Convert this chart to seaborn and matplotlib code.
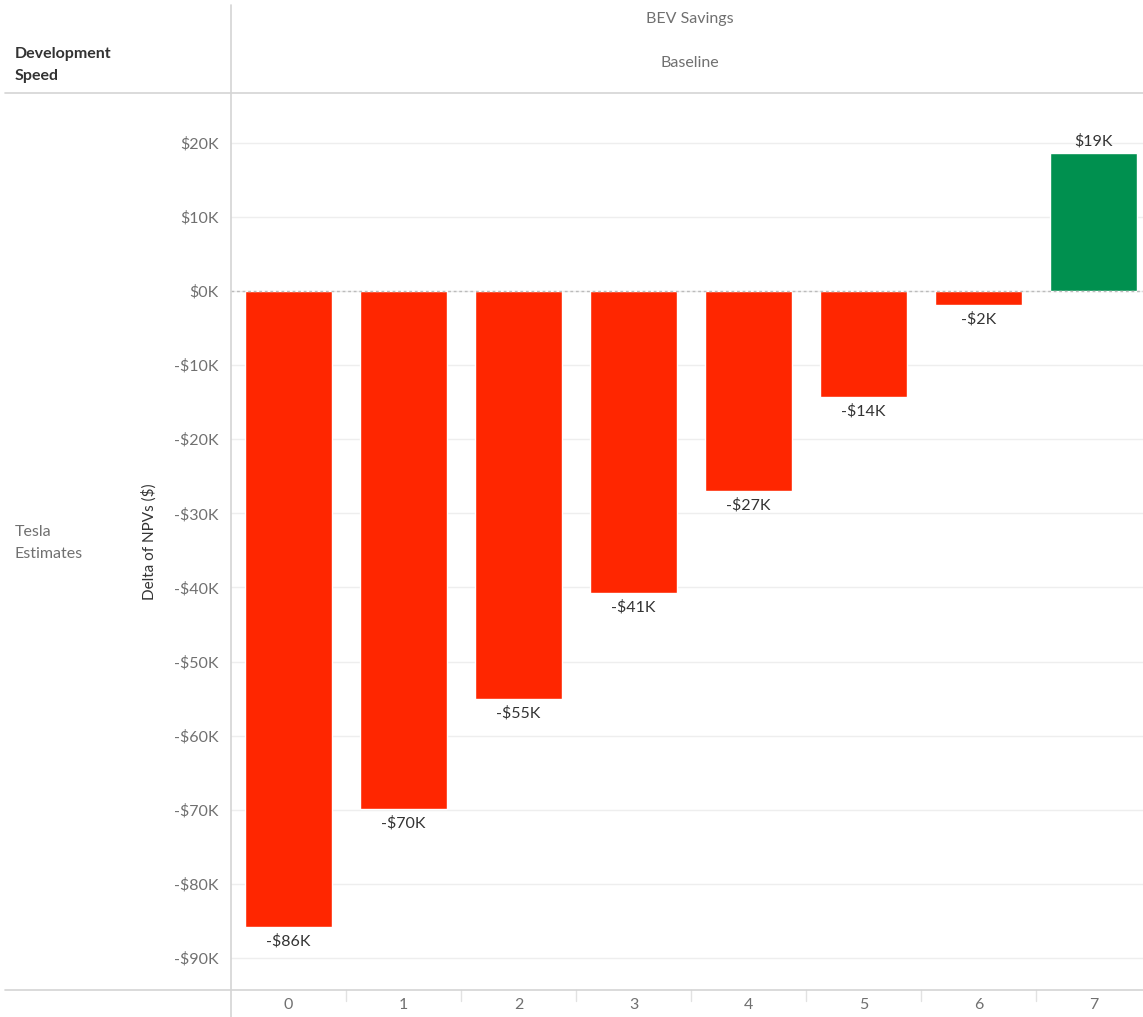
import matplotlib
matplotlib.use("Agg")
import matplotlib.pyplot as plt
from matplotlib.lines import Line2D
from matplotlib.ticker import FuncFormatter, MultipleLocator
import seaborn as sns
import pandas as pd

# Development speed scenarios and NPV deltas (thousands of dollars)
speeds = ["0", "1", "2", "3", "4", "5", "6", "7"]
delta_npv_k = [-85.8, -69.9, -55.1, -40.8, -27.0, -14.3, -1.9, 18.6]

RED = "#FF2600"
GREEN = "#00904F"
GRID = "#EEEEEE"
SEP = "#D4D4D4"
TICK_TXT = "#707070"
LABEL_TXT = "#333333"

sns.set_theme(style="white")
plt.rcParams["font.family"] = ["Lato", "DejaVu Sans"]

df = pd.DataFrame({"speed": speeds, "delta": delta_npv_k})
df["sign"] = ["pos" if v >= 0 else "neg" for v in df["delta"]]

W, H = 1143, 1017
fig = plt.figure(figsize=(W / 100, H / 100), dpi=100)
fig.patch.set_facecolor("white")

left, right, top, bottom = 231, 1143, 93, 990
ax = fig.add_axes([left / W, (H - bottom) / H, (right - left) / W, (bottom - top) / H])

sns.barplot(data=df, x="speed", y="delta", hue="sign",
            palette={"neg": RED, "pos": GREEN}, width=0.76,
            dodge=False, legend=False, ax=ax, saturation=1)

ax.set_xlim(-0.5, 7.43)
ax.set_ylim(-94.3, 26.7)
ax.yaxis.set_major_locator(MultipleLocator(10))
ax.yaxis.set_major_formatter(FuncFormatter(
    lambda v, _: f"-${abs(v):.0f}K" if v < 0 else f"${v:.0f}K"))
ax.grid(axis="y", color=GRID, linewidth=1)
ax.set_axisbelow(True)
ax.axhline(0, color="#BBBBBB", linestyle=(0, (2, 2)), linewidth=1, zorder=1)

for s in ax.spines.values():
    s.set_visible(False)

ax.tick_params(axis="y", colors=GRID, length=6, width=1, pad=3,
               labelcolor=TICK_TXT, labelsize=11.5)
ax.tick_params(axis="x", length=0, labelcolor=TICK_TXT, labelsize=11.5, pad=6)
ax.xaxis.set_ticks_position("bottom")
ax.set_xlabel("")
ax.set_ylabel("Delta of NPVs ($)", fontsize=11, color=LABEL_TXT, labelpad=12)

# value labels
for i, v in enumerate(delta_npv_k):
    txt = f"-${abs(v):.0f}K" if v < 0 else f"${v:.0f}K"
    if v < 0:
        ax.annotate(txt, (i, v), xytext=(0, -5), textcoords="offset points",
                    ha="center", va="top", fontsize=11.5, color=LABEL_TXT)
    else:
        ax.annotate(txt, (i, v), xytext=(0, 3), textcoords="offset points",
                    ha="center", va="bottom", fontsize=11.5, color=LABEL_TXT)

# category boundary ticks under the plot
for b in [0.5 + k for k in range(7)]:
    ax.plot([b, b], [0, -0.012], transform=ax.get_xaxis_transform(),
            color="#E2E2E2", linewidth=1, clip_on=False)

# table-like separators
def fline(x0, y0, x1, y1):
    fig.add_artist(Line2D([x0 / W, x1 / W], [1 - y0 / H, 1 - y1 / H],
                          color=SEP, linewidth=1.2, transform=fig.transFigure))

fline(231, 5, 231, H)
fline(5, 93, W, 93)
fline(5, 990, W, 990)

# headers
fig.text(690 / W, 1 - 19 / H, "BEV Savings", ha="center", va="center",
         fontsize=11.5, color=TICK_TXT)
fig.text(690 / W, 1 - 63 / H, "Baseline", ha="center", va="center",
         fontsize=11.5, color=TICK_TXT)
fig.text(15 / W, 1 - 65 / H, "Development\nSpeed", ha="left", va="center",
         fontsize=11.5, color=LABEL_TXT, fontweight="bold", linespacing=1.7)
fig.text(15 / W, 1 - 543 / H, "Tesla\nEstimates", ha="left", va="center",
         fontsize=11.5, color=TICK_TXT, linespacing=1.7)

fig.savefig("out.png", dpi=100, facecolor="white")
